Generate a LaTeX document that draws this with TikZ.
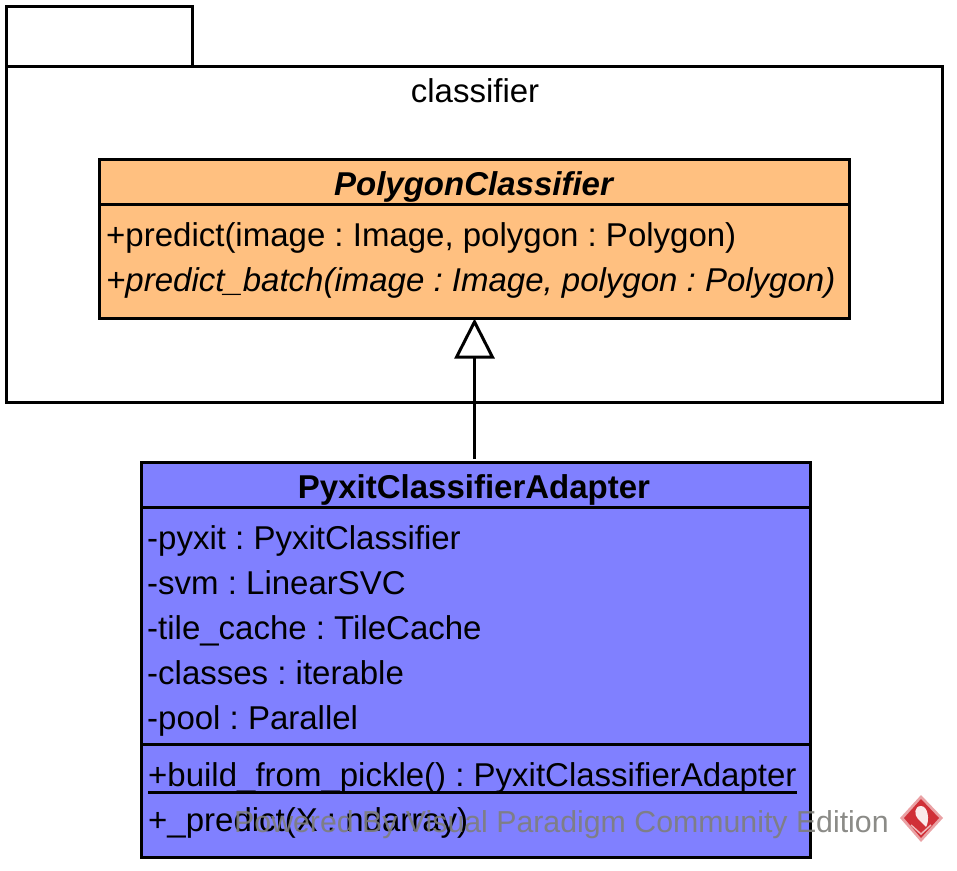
\documentclass[tikz,border=0pt]{standalone}
\usepackage{fontspec}
\setmainfont{Liberation Sans}
\usetikzlibrary{arrows.meta}
\definecolor{abstractfill}{RGB}{255,192,128}
\definecolor{adapterfill}{RGB}{128,128,255}
\definecolor{logored}{RGB}{208,48,56}
\definecolor{markgray}{RGB}{126,126,122}
\tikzset{
	box/.style={draw=black, line width=3pt, inner sep=0pt, outer sep=0pt, anchor=north west},
	member/.style={anchor=base west, inner sep=0pt, font=\fontsize{33}{40}\selectfont},
	heading/.style={anchor=base, inner sep=0pt, font=\fontsize{33}{40}\selectfont},
	divider/.style={black, line width=3pt},
	inherit/.style={black, line width=3pt, -{Triangle[open, length=40pt, width=40pt, line width=3pt]}}
}
\frenchspacing
\begin{document}
\begin{tikzpicture}[x=1pt, y=-1pt]
	\useasboundingbox (0,0) rectangle (957,870);
	% package
	\node[box, minimum width=186pt, minimum height=60pt] (tab) at (6.5,6.5) {};
	\node[box, minimum width=936pt, minimum height=336pt] (package) at (6.5,66.5) {};
	\node[heading] (packagename) at (475,102) {classifier};
	% abstract class
	\node[box, fill=abstractfill, minimum width=750pt, minimum height=159.5pt] (polygon) at (99.5,159) {};
	\coordinate (polygonleft) at (99.5,204.5);
	\coordinate (polygonright) at (849.5,204.5);
	\draw[divider] (polygonleft) -- (polygonright);
	\node[heading] (polygonname) at (473.5,195) {\bfseries\itshape PolygonClassifier};
	\node[member] (predict) at (106,246) {+predict(image : Image, polygon : Polygon)};
	\node[member] (predictbatch) at (106,291) {\itshape +predict\_batch(image : Image, polygon : Polygon)};
	% adapter class
	\node[box, fill=adapterfill, minimum width=668.5pt, minimum height=394.5pt] (adapter) at (141.5,462.5) {};
	\coordinate (adaptertopleft) at (141.5,507);
	\coordinate (adaptertopright) at (810,507);
	\coordinate (adapterlowleft) at (141.5,744.5);
	\coordinate (adapterlowright) at (810,744.5);
	\draw[divider] (adaptertopleft) -- (adaptertopright);
	\draw[divider] (adapterlowleft) -- (adapterlowright);
	\node[heading] (adaptername) at (474,498) {\bfseries PyxitClassifierAdapter};
	\node[member] (pyxit) at (147,549) {-pyxit : PyxitClassifier};
	\node[member] (svm) at (147,594) {-svm : LinearSVC};
	\node[member] (tilecache) at (147,639) {-tile\_cache : TileCache};
	\node[member] (classes) at (147,684) {-classes : iterable};
	\node[member] (pool) at (147,729) {-pool : Parallel};
	\node[member] (build) at (148,786) {+build\_from\_pickle() : PyxitClassifierAdapter};
	\draw[black, line width=3pt] (build.west |- 0,792) -- (build.east |- 0,792);
	\node[member] (predictx) at (148,831) {+\_predict(X : ndarray)};
	% generalization
	\coordinate (linestart) at (474.5,459);
	\draw[inherit] (linestart) -- (linestart |- polygon.south);
	% watermark
	\node[member, font=\fontsize{30.3}{36}\selectfont, text=markgray, text opacity=0.9] (watermark) at (234,832) {Powered By Visual Paradigm Community Edition};
	\fill[logored!45!white] (921,795) -- (943,818) -- (921,842) -- (900,818) -- cycle;
	\fill[logored] (921,799) -- (939,818) -- (921,838) -- (904,818) -- cycle;
	\fill[white!90!logored] (921,806) .. controls (914,806) and (914,815) .. (918,819) -- (926,827) .. controls (930,820) and (928,806) .. (921,806) -- cycle;
	\draw[logored!35!white, line width=1.5pt] (911,825) -- (921,834) -- (931,825);
\end{tikzpicture}
\end{document}
